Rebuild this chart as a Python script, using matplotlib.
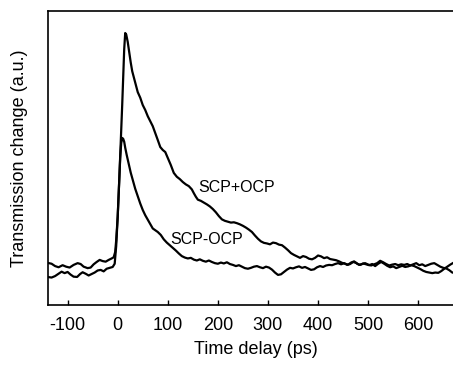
import matplotlib
matplotlib.use("Agg")
import matplotlib.pyplot as plt

plt.rcParams['font.family'] = ['Liberation Sans', 'DejaVu Sans']
plt.rcParams['axes.unicode_minus'] = False

# SCP+OCP curve
t_plus = [-140, -132, -125, -118, -110, -103, -96, -88, -80, -74, -68, -60, -54, -48, -42, -36, -30, -24, -18, -12, -8,
          -5, -3, 0, 3, 6, 9, 11, 13, 15, 17, 20, 23, 26, 29, 32, 36, 40, 45, 50, 55, 60, 65, 70, 75, 80, 85, 90, 95,
          100, 106, 112, 118, 124, 130, 136, 142, 148, 152, 156, 160, 166, 172, 178, 184, 190, 196, 202, 208, 214,
          220, 226, 232, 238, 244, 250, 256, 262, 268, 274, 280, 286, 292, 298, 304, 310, 316, 322, 328, 334, 340,
          346, 352, 358, 364, 370, 376, 382, 388, 394, 400, 406, 412, 418, 424, 430, 436, 442, 448, 454, 460, 466,
          472, 478, 484, 490, 496, 502, 508, 514, 520, 526, 532, 538, 544, 550, 556, 562, 568, 574, 580, 586, 592,
          598, 604, 610, 616, 622, 628, 634, 640, 646, 652, 658, 664, 670, 676, 682, 690]
y_plus = [14.3, 14.0, 13.2, 12.8, 13.5, 13.0, 12.7, 13.6, 14.2, 13.9, 13.0, 12.5, 12.7, 13.8, 14.6, 15.3, 14.9, 14.7,
          15.3, 15.8, 16.2, 18, 22, 30, 42, 55, 68, 78, 87, 92.5, 92, 89.5, 86, 82.5, 79.5, 77.6, 75, 72.4, 70.5, 68,
          66.3, 64.2, 62.5, 60.8, 58.5, 56.1, 53.7, 52.7, 52, 50, 47.6, 44.9, 43.6, 42.8, 41.8, 41, 40.4, 39.3, 38,
          36.8, 35.8, 35.4, 34.8, 34.2, 33.5, 32.6, 31.5, 30.2, 29.1, 28.6, 28.3, 28.0, 28.1, 27.8, 27.4, 26.9, 26.3,
          25.6, 24.8, 23.6, 22.5, 21.6, 21.1, 20.9, 20.6, 21.2, 21.0, 20.5, 20.3, 19.5, 18.6, 17.6, 17.0, 16.5, 16.0,
          16.6, 16.3, 15.7, 15.5, 16.0, 16.8, 16.5, 15.9, 16.2, 15.6, 15.4, 15.2, 14.8, 14.3, 14.0, 13.7, 14.4, 14.8,
          14.0, 13.6, 14.1, 13.8, 13.5, 13.9, 13.2, 14.0, 14.6, 14.0, 13.3, 12.8, 13.1, 12.5, 12.9, 13.3, 12.9, 13.1,
          13.5, 13.2, 12.7, 12.2, 11.6, 11.2, 11.0, 10.8, 11.0, 10.9, 11.5, 12.3, 13.0, 13.7, 14.3, 14.6, 14.2, 14.5]

# SCP-OCP curve
t_minus = [-140, -132, -125, -118, -112, -106, -100, -94, -88, -81, -75, -70, -64, -58, -52, -46, -40, -34, -28, -22,
           -16, -10, -6, -3, 0, 3, 5, 7, 9, 11, 13, 15, 18, 22, 26, 30, 35, 40, 45, 50, 55, 60, 65, 70, 75, 80, 86,
           92, 98, 104, 110, 116, 122, 128, 134, 140, 146, 152, 158, 164, 170, 176, 182, 188, 194, 200, 206, 212,
           218, 224, 230, 236, 242, 248, 254, 260, 266, 272, 278, 284, 290, 296, 302, 308, 314, 320, 326, 332, 338,
           344, 350, 356, 362, 368, 374, 380, 386, 392, 398, 404, 410, 416, 422, 428, 434, 440, 446, 452, 458, 464,
           470, 476, 482, 488, 494, 500, 506, 512, 518, 524, 530, 536, 542, 548, 554, 560, 566, 572, 578, 584, 590,
           596, 602, 608, 614, 620, 626, 632, 638, 644, 650, 656, 662, 668, 674, 682, 690]
y_minus = [9.5, 9.3, 9.8, 10.6, 11.3, 10.8, 11.2, 10.3, 9.6, 9.5, 10.5, 11.1, 10.6, 10.0, 10.5, 11.0, 11.7, 11.9, 11.4,
           12.3, 12.6, 12.9, 14, 20, 30, 42, 50, 55, 56.8, 56.5, 55.5, 53.5, 51, 48, 45, 42.5, 39.5, 37, 34.5, 32.3,
           30.5, 29, 27.5, 26, 25.4, 24.8, 23.8, 22.3, 21.2, 20.3, 19.4, 18.5, 17.5, 16.6, 16.1, 15.8, 16.0, 15.4,
           15.1, 15.5, 15.0, 14.7, 15.1, 14.6, 14.2, 14.0, 14.4, 14.1, 14.5, 13.9, 13.6, 13.2, 13.5, 13.0, 12.5, 12.3,
           12.6, 13.0, 13.2, 12.8, 12.5, 13.0, 12.7, 12.0, 11.0, 10.2, 10.4, 11.2, 12.0, 12.6, 12.4, 12.8, 13.1, 12.6,
           12.9, 12.4, 11.9, 12.1, 12.8, 13.2, 12.9, 13.4, 13.6, 13.5, 13.9, 14.2, 13.8, 14.2, 13.6, 13.9, 14.6, 14.3,
           13.6, 13.9, 14.2, 13.7, 13.4, 13.8, 14.2, 15.0, 14.5, 13.9, 13.4, 13.7, 13.9, 13.5, 13.8, 13.6, 13.9, 13.4,
           13.8, 14.2, 13.5, 13.8, 13.2, 13.6, 14.0, 14.2, 13.6, 13.0, 12.6, 12.4, 11.8, 11.0, 10.8, 11.0, 11.2]

x_ticks = [-100, 0, 100, 200, 300, 400, 500, 600]

fig = plt.figure(figsize=(4.53, 3.66), dpi=100)
ax = fig.add_axes([0.105, 0.167, 0.92, 0.803])

ax.plot(t_plus, y_plus, color="black", lw=1.6)
ax.plot(t_minus, y_minus, color="black", lw=1.6)

ax.text(161, 39.8, "SCP+OCP", fontsize=11.5, ha="left", va="center")
ax.text(104, 22.4, "SCP-OCP", fontsize=11.5, ha="left", va="center")

ax.set_xlim(-140, 692)
ax.set_ylim(0, 100)
ax.set_xticks(x_ticks)
ax.set_yticks([])
ax.tick_params(axis="x", direction="in", length=3.5, width=1, labelsize=13, pad=9)
ax.spines["right"].set_visible(False)
for s in ["left", "top", "bottom"]:
    ax.spines[s].set_linewidth(1.2)

ax.set_xlabel("Time delay (ps)", fontsize=13, labelpad=5)
ax.set_ylabel("Transmission change (a.u.)", fontsize=13, labelpad=14)

fig.savefig("out.png", dpi=100)
